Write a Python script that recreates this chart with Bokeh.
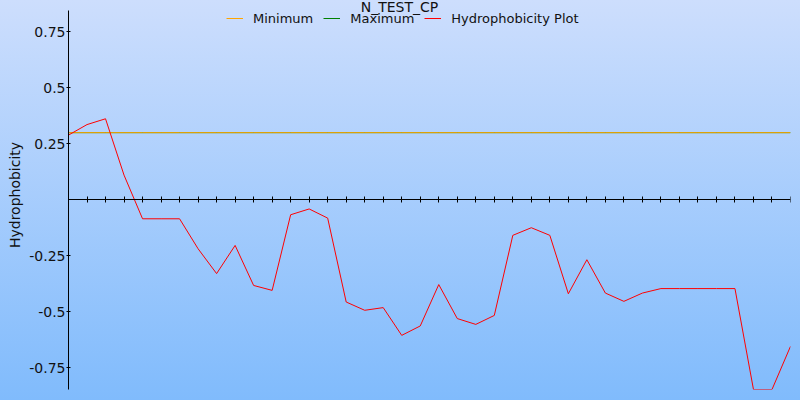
from bokeh.plotting import figure
from bokeh.models import (Range1d, LinearAxis, FixedTicker, SingleIntervalTicker,
                          Legend, LegendItem, Label, GlobalInlineStyleSheet)
from bokeh.embed import file_html
from bokeh.resources import INLINE

# ---- data ----
positions = list(range(1, 41))
hydrophobicity = [0.289, 0.336, 0.362, 0.110, -0.085, -0.085, -0.085, -0.219,
                  -0.330, -0.204, -0.383, -0.405, -0.067, -0.041, -0.082, -0.457,
                  -0.494, -0.482, -0.606, -0.564, -0.379, -0.531, -0.557, -0.517,
                  -0.159, -0.125, -0.159, -0.420, -0.268, -0.417, -0.454, -0.417,
                  -0.397, -0.397, -0.397, -0.397, -0.397, -0.848, -0.848, -0.655]
minimum_level = 0.3
maximum_level = 0.3
y_ticks = [-0.75, -0.5, -0.25, 0.25, 0.5, 0.75]
y_tick_labels = ["-0.75", "-0.5", "-0.25", "0.25", "0.5", "0.75"]
y_axis_bounds = (-0.848, 0.846)
title_text = "N_TEST_CP"
y_label = "Hydrophobicity"
series_names = ["Minimum", "Maximum", "Hydrophobicity Plot"]
series_colors = ["#ffa500", "#008000", "#ff0000"]

FONT = "DejaVu Sans"

p = figure(width=800, height=400, output_backend="svg", toolbar_location=None,
           x_range=Range1d(positions[0], positions[-1]),
           y_range=Range1d(-0.848, 0.8906),
           x_axis_type=None, y_axis_type=None,
           min_border_left=68, min_border_right=10, min_border_top=0, min_border_bottom=11)
p.background_fill_color = None
p.border_fill_color = None
p.outline_line_color = None
p.stylesheets = [GlobalInlineStyleSheet(css=(
    "html{height:100%;background:linear-gradient(to bottom,#cddefd 0%,#80bbfc 100%);}"
    "body{background:transparent;}"))]

# y axis
yaxis = LinearAxis(ticker=FixedTicker(ticks=y_ticks, minor_ticks=[]),
                   bounds=y_axis_bounds,
                   major_label_overrides={t: l for t, l in zip(y_ticks, y_tick_labels)},
                   axis_label=y_label,
                   axis_label_text_font=FONT, axis_label_text_font_size="14px",
                   axis_label_text_font_style="normal", axis_label_text_color="#111111",
                   axis_label_standoff=3,
                   major_label_text_font=FONT, major_label_text_font_size="14px",
                   major_label_text_color="#111111", major_label_standoff=1,
                   major_tick_in=2, major_tick_out=2, minor_tick_in=0, minor_tick_out=0,
                   axis_line_color="black", major_tick_line_color="black")
p.add_layout(yaxis, "left")

# x axis through zero
xaxis = LinearAxis(fixed_location=0,
                   ticker=SingleIntervalTicker(interval=1, num_minor_ticks=0),
                   major_label_text_font_size="0px", major_label_text_alpha=0,
                   major_tick_in=3, major_tick_out=3, minor_tick_in=0, minor_tick_out=0,
                   axis_line_color="black", major_tick_line_color="black")
p.add_layout(xaxis, "below")

r_max = p.line(positions, [maximum_level] * len(positions), line_color=series_colors[1], line_width=1)
r_min = p.line(positions, [minimum_level] * len(positions), line_color=series_colors[0], line_width=1)
r_h = p.line(positions, hydrophobicity, line_color=series_colors[2], line_width=1)

legend = Legend(items=[LegendItem(label=series_names[0], renderers=[r_min]),
                       LegendItem(label=series_names[1], renderers=[r_max]),
                       LegendItem(label=series_names[2], renderers=[r_h])],
                orientation="horizontal", location=(158, 363),
                background_fill_alpha=0, border_line_color=None,
                padding=0, margin=0, spacing=10, label_standoff=10,
                glyph_width=17, glyph_height=16, label_height=16,
                label_text_font=FONT, label_text_font_size="13px",
                label_text_color="#111111")
p.add_layout(legend)

p.add_layout(Label(x=331, y=391, x_units="screen", y_units="screen", text=title_text,
                   text_align="center", text_baseline="top",
                   text_font=FONT, text_font_size="14px", text_color="#111111"))

open("out.html", "w").write(file_html(p, INLINE))
